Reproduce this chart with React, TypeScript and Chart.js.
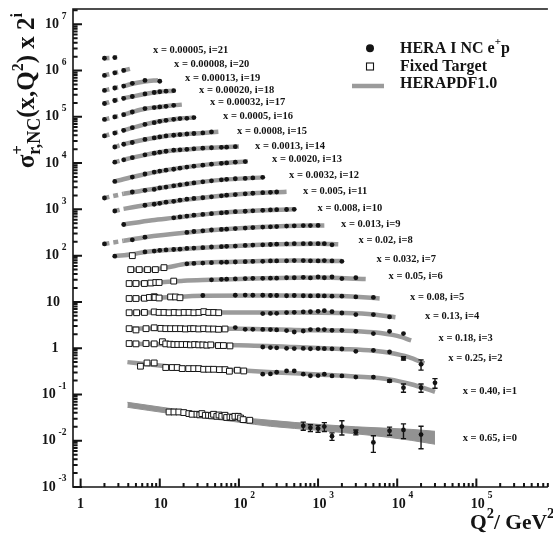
import React, { useEffect, useRef } from "react";
import { Chart, registerables } from "chart.js";

Chart.register(...registerables);

const SERIF = '"Liberation Serif", "Times New Roman", Times, serif';
const INK = "#141414";
const PDF_GREY = "#9b9b9b";
const BAND_GREY = "#929292";

// ---------------- data ----------------
// bin index i = 0..21 ; plotted value = sigma_r * 2^i
const BIN_X = ["0.65", "0.40", "0.25", "0.18", "0.13", "0.08", "0.05", "0.032", "0.02", "0.013", "0.008", "0.005", "0.0032", "0.0020", "0.0013", "0.0008", "0.0005", "0.00032", "0.00020", "0.00013", "0.00008", "0.00005"];

const X_MIN = 0.8011;
const X_MAX = 8.014e5;
const Y_MIN = 1e-3;
const Y_MAX = 2.14e7;
const X_TICK_EXP = [0, 1, 2, 3, 4, 5];
const Y_TICK_EXP = [-3, -2, -1, 0, 1, 2, 3, 4, 5, 6, 7];

// HERA I NC e+p  (Q2 in GeV^2)
const HERA_Q2: number[][] = [
  [650, 800, 1000, 1200, 1500, 2000, 3000, 5000, 8000, 12000, 20000],
  [200, 250, 300, 400, 500, 650, 800, 1000, 1200, 1500, 2000, 3000, 5000, 8000, 12000, 20000, 30000],
  [200, 250, 300, 400, 500, 650, 800, 1000, 1200, 1500, 2000, 3000, 5000, 8000, 12000, 20000],
  [90, 120, 150, 200, 250, 300, 400, 500, 650, 800, 1000, 1200, 1500, 2000, 3000, 5000, 8000, 12000],
  [200, 250, 300, 400, 500, 650, 800, 1000, 1200, 1500, 2000, 3000, 5000, 8000],
  [35, 90, 120, 150, 200, 250, 300, 400, 500, 650, 800, 1000, 1200, 1500, 2000, 3000, 5000],
  [45, 60, 70, 90, 120, 150, 200, 250, 300, 400, 500, 650, 800, 1000, 1200, 1500, 2000, 3000],
  [22, 27, 35, 45, 60, 70, 90, 120, 150, 200, 250, 300, 400, 500, 650, 800, 1000, 1200, 1500, 2000],
  [2.7, 6.5, 8.5, 10, 12, 15, 18, 22, 27, 35, 45, 60, 70, 90, 120, 150, 200, 250, 300, 400, 500, 650, 800, 1000, 1200, 1500],
  [2, 4.5, 6.5, 22, 27, 35, 45, 60, 70, 90, 120, 150, 200, 250, 300, 400, 500, 650, 800, 1000],
  [3.5, 15, 18, 22, 27, 35, 45, 60, 70, 90, 120, 150, 200, 250, 300, 400, 500],
  [2.7, 6.5, 8.5, 10, 12, 15, 18, 22, 27, 35, 45, 60, 70, 90, 120, 150, 200, 250, 300],
  [2, 4.5, 6.5, 8.5, 10, 12, 15, 18, 22, 27, 35, 45, 60, 70, 90, 120, 150, 200],
  [2.7, 4.5, 6.5, 8.5, 10, 12, 15, 18, 22, 27, 35, 45, 60, 70, 90, 120],
  [2.7, 3.5, 4.5, 6.5, 8.5, 10, 12, 15, 18, 22, 27, 35, 45, 60, 70, 90],
  [2.7, 3.5, 4.5, 6.5, 8.5, 10, 12, 15, 18, 22, 27, 35, 45],
  [2, 2.7, 3.5, 4.5, 6.5, 8.5, 10, 12, 15, 18, 22, 27],
  [2, 2.7, 3.5, 4.5, 6.5, 8.5, 10, 12, 15],
  [2, 2.7, 3.5, 4.5, 6.5, 8.5, 10, 12, 15],
  [2, 2.7, 3.5, 4.5, 6.5, 10],
  [2, 2.7, 3.5],
  [2, 2.7],
];
const HERA_SIGMA: number[][] = [
  [0.021, 0.019, 0.0184, 0.0202, 0.0125, 0.0202, 0.0152, 0.0092, 0.0164, 0.0171, 0.0136],
  [0.137, 0.139, 0.151, 0.161, 0.161, 0.137, 0.127, 0.128, 0.137, 0.126, 0.126, 0.119, 0.119, 0.098, 0.07, 0.07, 0.089],
  [0.265, 0.258, 0.255, 0.248, 0.245, 0.247, 0.243, 0.246, 0.244, 0.242, 0.24, 0.214, 0.225, 0.207, 0.151, 0.112],
  [0.348, 0.32, 0.32, 0.318, 0.315, 0.31, 0.3, 0.28, 0.294, 0.315, 0.315, 0.315, 0.304, 0.304, 0.29, 0.259, 0.29, 0.259],
  [0.35, 0.352, 0.355, 0.368, 0.373, 0.379, 0.383, 0.392, 0.405, 0.385, 0.36, 0.333, 0.333, 0.296],
  [0.43, 0.435, 0.44, 0.435, 0.435, 0.43, 0.43, 0.425, 0.43, 0.425, 0.42, 0.425, 0.42, 0.415, 0.415, 0.4, 0.39],
  [0.47, 0.48, 0.485, 0.49, 0.5, 0.505, 0.505, 0.51, 0.51, 0.52, 0.52, 0.53, 0.515, 0.54, 0.52, 0.54, 0.5, 0.52],
  [0.52, 0.53, 0.54, 0.55, 0.56, 0.565, 0.57, 0.58, 0.585, 0.59, 0.6, 0.6, 0.605, 0.61, 0.61, 0.605, 0.6, 0.61, 0.6, 0.59],
  [0.38, 0.47, 0.49, 0.51, 0.52, 0.53, 0.54, 0.56, 0.57, 0.58, 0.6, 0.61, 0.62, 0.63, 0.65, 0.66, 0.67, 0.68, 0.69, 0.7, 0.71, 0.71, 0.71, 0.71, 0.71, 0.67],
  [0.35, 0.43, 0.49, 0.62, 0.65, 0.67, 0.7, 0.72, 0.73, 0.75, 0.77, 0.79, 0.81, 0.82, 0.83, 0.85, 0.86, 0.87, 0.87, 0.88],
  [0.46, 0.64, 0.67, 0.7, 0.73, 0.76, 0.79, 0.82, 0.84, 0.87, 0.89, 0.91, 0.93, 0.95, 0.96, 0.97, 0.98],
  [0.45, 0.6, 0.63, 0.66, 0.7, 0.73, 0.77, 0.81, 0.84, 0.87, 0.91, 0.96, 0.99, 1.02, 1.06, 1.09, 1.12, 1.14, 1.16],
  [0.43, 0.58, 0.63, 0.66, 0.71, 0.74, 0.79, 0.83, 0.87, 0.91, 0.96, 1.01, 1.06, 1.09, 1.12, 1.14, 1.17, 1.2],
  [0.49, 0.61, 0.71, 0.78, 0.82, 0.86, 0.9, 0.95, 1.0, 1.05, 1.1, 1.16, 1.21, 1.23, 1.28, 1.32],
  [0.64, 0.72, 0.8, 0.92, 1.0, 1.05, 1.1, 1.16, 1.18, 1.21, 1.24, 1.28, 1.31, 1.34, 1.35, 1.38],
  [0.68, 0.78, 0.85, 0.99, 1.07, 1.12, 1.18, 1.22, 1.26, 1.3, 1.33, 1.37, 1.44],
  [0.59, 0.68, 0.78, 0.89, 1.05, 1.14, 1.22, 1.28, 1.35, 1.4, 1.42, 1.47],
  [0.67, 0.76, 0.85, 0.97, 1.15, 1.21, 1.25, 1.29, 1.35],
  [0.74, 0.86, 0.96, 1.05, 1.19, 1.28, 1.33, 1.37, 1.4],
  [0.71, 0.8, 0.88, 1.01, 1.17, 1.12],
  [0.75, 0.85, 0.96],
  [0.88, 0.91],
];
// absolute errors on sigma_r (0 = bar hidden by the marker)
const HERA_ERR: number[][] = [
  [0.0042, 0.0032, 0.0031, 0.0044, 0.0023, 0.0069, 0.0018, 0.0036, 0.0033, 0.006, 0.0069],
  [0, 0, 0, 0, 0, 0, 0, 0, 0, 0, 0, 0, 0, 0.005, 0.014, 0.014, 0.021],
  [0, 0, 0, 0, 0, 0, 0, 0, 0, 0, 0, 0, 0, 0, 0.012, 0.028],
];

// Fixed target
const FT_Q2: number[][] = [
  [13.1, 15.1, 17.4, 20.1, 23.3, 25.6, 29.5, 32, 34.1, 37.6, 41.3, 45, 47.8, 52.6, 56, 60.7, 66.7, 70, 77.1, 83, 89, 98, 105, 113, 137],
  [5.7, 6.9, 8.5, 11.9, 14.4, 16.6, 19.2, 23.2, 26.9, 31, 35.8, 41.4, 47.8, 56.8, 66.7, 75.8, 95.5, 115],
  [4.1, 5, 6.7, 8.5, 10.8, 11.9, 13.5, 15.1, 16.9, 19.1, 21.7, 24.4, 27.6, 31, 35, 39.3, 44.1, 55.1, 63.7, 77],
  [4.1, 5, 6.7, 8.5, 10.3, 11.9, 13.7, 15.8, 18.3, 21.1, 24.4, 26.8, 31, 35.8, 41.4, 47.8, 55.2, 66.7],
  [4.1, 5.1, 6.4, 8.5, 9.8, 11.3, 13.1, 15.2, 17.5, 20.3, 23.4, 27, 31.2, 36, 41.6, 48, 55.5],
  [4.1, 5, 6.4, 7.4, 8.5, 8.7, 9.8, 13.7, 15.8, 18],
  [4.1, 5, 6.4, 7.7, 8.9, 9.8, 15],
  [4.3, 5.5, 7, 8.8, 11.3],
  [4.5],
];
const FT_SIGMA: number[][] = [
  [0.0418, 0.0418, 0.0418, 0.0406, 0.0386, 0.0373, 0.0373, 0.0362, 0.0386, 0.0355, 0.0355, 0.0345, 0.0373, 0.0337, 0.036, 0.0337, 0.0355, 0.0318, 0.0326, 0.0318, 0.0337, 0.0337, 0.031, 0.0286, 0.0277],
  [0.204, 0.24, 0.24, 0.191, 0.191, 0.191, 0.181, 0.181, 0.181, 0.181, 0.175, 0.175, 0.175, 0.172, 0.172, 0.159, 0.167, 0.161],
  [0.315, 0.31, 0.315, 0.31, 0.345, 0.31, 0.305, 0.3, 0.3, 0.3, 0.3, 0.295, 0.3, 0.295, 0.295, 0.29, 0.295, 0.285, 0.285, 0.28],
  [0.33, 0.31, 0.33, 0.345, 0.335, 0.33, 0.33, 0.33, 0.33, 0.325, 0.33, 0.33, 0.325, 0.33, 0.325, 0.325, 0.32, 0.325],
  [0.365, 0.365, 0.37, 0.38, 0.37, 0.37, 0.365, 0.37, 0.365, 0.37, 0.37, 0.365, 0.37, 0.385, 0.37, 0.37, 0.365],
  [0.37, 0.37, 0.375, 0.39, 0.405, 0.39, 0.38, 0.4, 0.4, 0.385],
  [0.39, 0.39, 0.39, 0.4, 0.41, 0.41, 0.44],
  [0.39, 0.39, 0.39, 0.39, 0.43],
  [0.39],
];

// HERAPDF1.0 curves (bins 1..21); bin 0 is drawn as a band
const PDF_Q2: number[][] = [
  [],
  [3.9, 8, 20, 100, 300, 1000, 3000, 8000, 15000, 30000],
  [3.9, 20, 100, 500, 2000, 5000, 8000, 14000, 22000],
  [3.9, 20, 100, 500, 2000, 5000, 10000, 15000],
  [3.9, 20, 100, 500, 2000, 5000, 9500],
  [3.9, 10, 35, 300, 2000, 6000],
  [3.9, 10, 20, 45, 200, 1000, 4000],
  [3.9, 8, 12, 22, 90, 500, 2000],
  [2.7, 4.5, 6.5, 15, 60, 300, 1000, 1800],
  [2, 3.5, 6.5, 22, 90, 400, 1200],
  [3.5, 8, 15, 45, 150, 500],
  [2.7, 3.5, 6.5, 15, 45, 120, 400],
  [2, 3.5, 6.5, 12, 27, 60, 200],
  [2.7, 4.5, 6.5, 12, 27, 60, 130],
  [2.7, 3.5, 6.5, 12, 27, 60, 100],
  [2.7, 3.5, 6.5, 10, 18, 35, 55],
  [2, 3.5, 6.5, 10, 18, 27],
  [2, 2.7, 3.5, 4.5, 6.5, 10, 15, 19],
  [2, 2.7, 3.5, 4.5, 6.5, 10, 15],
  [2, 2.7, 3.5, 4.5, 6.5, 9.5],
  [2, 2.7, 3.5, 4.2],
  [2, 2.9],
];
const PDF_SIGMA: number[][] = [
  [],
  [0.25, 0.22, 0.19, 0.167, 0.15, 0.135, 0.122, 0.106, 0.083, 0.057],
  [0.31, 0.3, 0.29, 0.265, 0.24, 0.22, 0.2, 0.16, 0.117],
  [0.335, 0.33, 0.33, 0.31, 0.3, 0.275, 0.23, 0.185],
  [0.365, 0.37, 0.37, 0.37, 0.36, 0.335, 0.29],
  [0.37, 0.385, 0.425, 0.43, 0.42, 0.37],
  [0.39, 0.41, 0.45, 0.47, 0.505, 0.525, 0.49],
  [0.385, 0.39, 0.43, 0.52, 0.575, 0.61, 0.595],
  [0.38, 0.42, 0.47, 0.53, 0.61, 0.69, 0.71, 0.69],
  [0.35, 0.41, 0.49, 0.62, 0.75, 0.85, 0.88],
  [0.46, 0.57, 0.64, 0.79, 0.91, 0.98],
  [0.45, 0.5, 0.6, 0.73, 0.91, 1.06, 1.18],
  [0.43, 0.53, 0.63, 0.74, 0.91, 1.06, 1.2],
  [0.49, 0.61, 0.7, 0.86, 1.05, 1.21, 1.33],
  [0.64, 0.72, 0.92, 1.1, 1.24, 1.34, 1.39],
  [0.68, 0.78, 0.99, 1.12, 1.26, 1.37, 1.45],
  [0.59, 0.78, 1.05, 1.22, 1.4, 1.47],
  [0.67, 0.76, 0.85, 0.97, 1.14, 1.25, 1.35, 1.4],
  [0.74, 0.86, 0.96, 1.05, 1.19, 1.33, 1.4],
  [0.71, 0.8, 0.88, 0.99, 1.11, 1.18],
  [0.75, 0.85, 0.96, 1.04],
  [0.88, 0.92],
];
// bin 0 (x = 0.65) HERAPDF1.0 uncertainty band
const BAND_Q2 = [3.9, 13, 41, 100, 250, 1000, 3000, 8000, 15000, 30000];
const BAND_HI = [0.0677, 0.0503, 0.0392, 0.0322, 0.0276, 0.0226, 0.02, 0.0185, 0.0176, 0.016];
const BAND_LO = [0.0528, 0.0392, 0.0306, 0.0251, 0.0205, 0.0168, 0.0141, 0.0118, 0.0102, 0.0084];
const PDF_DASH_BELOW = 3.5;

// ---------------- layout (page pixels) ----------------
const LABEL_POS: number[][] = [
  [462.7, 438], [462.7, 391.3], [448.3, 358.5], [438.5, 338.3], [425, 316.5], [410, 297.5],
  [388.5, 276.5], [376.5, 259], [358.5, 240.5], [341, 224], [317.5, 208.5], [303, 191.5],
  [289, 175], [272, 159.5], [255, 146], [237, 131.5], [223, 116], [210, 102.5],
  [199, 90], [185, 78], [174, 64.5], [153, 50.5],
];

type Part = { t: string; px: number; dy?: number; hold?: boolean };

function richWidth(ctx: CanvasRenderingContext2D, parts: Part[]) {
  let w = 0;
  for (const p of parts) {
    ctx.font = `bold ${p.px}px ${SERIF}`;
    if (!p.hold) w += ctx.measureText(p.t).width;
  }
  return w;
}
function drawRich(ctx: CanvasRenderingContext2D, x: number, y: number, parts: Part[]) {
  let cx = x;
  for (const p of parts) {
    ctx.font = `bold ${p.px}px ${SERIF}`;
    ctx.fillText(p.t, cx, y + (p.dy || 0));
    if (!p.hold) cx += ctx.measureText(p.t).width;
  }
}

const errorBarPlugin = {
  id: "errorBars",
  afterDatasetsDraw(chart: any) {
    const { ctx } = chart;
    const ys = chart.scales.y;
    ctx.save();
    ctx.strokeStyle = INK;
    ctx.lineWidth = 1.4;
    chart.data.datasets.forEach((ds: any, di: number) => {
      if (!ds.errors) return;
      const meta = chart.getDatasetMeta(di);
      meta.data.forEach((pt: any, k: number) => {
        const e = ds.errors[k];
        if (!e) return;
        const v = ds.data[k].y;
        const top = ys.getPixelForValue(v + e);
        const bot = ys.getPixelForValue(Math.max(v - e, Y_MIN));
        ctx.beginPath();
        ctx.moveTo(pt.x, top);
        ctx.lineTo(pt.x, bot);
        ctx.moveTo(pt.x - 2.6, top);
        ctx.lineTo(pt.x + 2.6, top);
        ctx.moveTo(pt.x - 2.6, bot);
        ctx.lineTo(pt.x + 2.6, bot);
        ctx.stroke();
      });
    });
    ctx.restore();
  },
};

const decorPlugin = {
  id: "decor",
  afterDraw(chart: any) {
    const { ctx, chartArea: a } = chart;
    const xs = chart.scales.x;
    const ys = chart.scales.y;
    ctx.save();
    ctx.fillStyle = INK;
    ctx.strokeStyle = INK;

    // frame
    ctx.lineWidth = 1.6;
    ctx.beginPath();
    ctx.moveTo(a.right, a.top);
    ctx.lineTo(a.left, a.top);
    ctx.lineTo(a.left, a.bottom);
    ctx.lineTo(a.right, a.bottom);
    ctx.stroke();

    // y ticks (inward)
    ctx.lineWidth = 2;
    ctx.beginPath();
    for (const e of Y_TICK_EXP) {
      for (let m = 1; m <= 9; m++) {
        const v = m * Math.pow(10, e);
        if (v > ys.max) break;
        const py = ys.getPixelForValue(v);
        const len = m === 1 ? 9 : 4.6;
        ctx.moveTo(a.left, py);
        ctx.lineTo(a.left + len, py);
      }
    }
    // x ticks (inward)
    for (const e of X_TICK_EXP.concat([6])) {
      for (let m = 1; m <= 9; m++) {
        const v = m * Math.pow(10, e);
        if (v > xs.max) break;
        const px = xs.getPixelForValue(v);
        const len = m === 1 ? 8.5 : 4;
        ctx.moveTo(px, a.bottom);
        ctx.lineTo(px, a.bottom - len);
      }
    }
    ctx.stroke();

    // y tick labels
    ctx.textBaseline = "middle";
    ctx.textAlign = "left";
    for (const e of Y_TICK_EXP) {
      const py = ys.getPixelForValue(Math.pow(10, e));
      let parts: Part[];
      let right: number;
      if (e === 0) { parts = [{ t: "1", px: 14 }]; right = 58.5; }
      else if (e === 1) { parts = [{ t: "10", px: 14 }]; right = 60; }
      else { parts = [{ t: "10", px: 14 }, { t: "\u2009", px: 14 }, { t: String(e), px: 9.5, dy: -8 }]; right = 66.5; }
      const w = richWidth(ctx, parts);
      ctx.fillStyle = INK;
      drawRich(ctx, right - w, py, parts);
    }
    // x tick labels
    for (const e of X_TICK_EXP) {
      const px = xs.getPixelForValue(Math.pow(10, e));
      const y0 = 504;
      if (e === 0) {
        ctx.font = `bold 14px ${SERIF}`;
        ctx.textAlign = "center";
        ctx.fillText("1", px, y0);
        ctx.textAlign = "left";
      } else if (e === 1) {
        ctx.font = `bold 14px ${SERIF}`;
        ctx.textAlign = "center";
        ctx.fillText("10", px + 1, y0);
        ctx.textAlign = "left";
      } else {
        ctx.font = `bold 14px ${SERIF}`;
        const w10 = ctx.measureText("10").width;
        const x0 = px + 1.5 - w10 / 2;
        drawRich(ctx, x0, y0, [{ t: "10", px: 14 }, { t: "\u2009", px: 14 }, { t: String(e), px: 9.5, dy: -8 }]);
      }
    }

    // x title
    drawRich(ctx, 470, 523, [
      { t: "Q", px: 21.5 },
      { t: "2", px: 14.5, dy: -9 },
      { t: "/ GeV", px: 21.5 },
      { t: "2", px: 14.5, dy: -9 },
    ]);

    // y title (rotated)
    const yParts: Part[] = [
      { t: "\u03c3", px: 25 },
      { t: "+", px: 17, dy: -9, hold: true },
      { t: "r,NC", px: 18, dy: 7 },
      { t: "(x,Q", px: 25 },
      { t: "2", px: 16, dy: -9 },
      { t: ") x 2", px: 25 },
      { t: "i", px: 16, dy: -10 },
    ];
    const yw = richWidth(ctx, yParts);
    ctx.save();
    ctx.translate(28, 13 + yw);
    ctx.rotate(-Math.PI / 2);
    drawRich(ctx, 0, 0, yParts);
    ctx.restore();

    // bin labels
    for (let i = 0; i < BIN_X.length; i++) {
      const [lx, ly] = LABEL_POS[i];
      ctx.font = `bold 10.5px ${SERIF}`;
      ctx.fillText(`x = ${BIN_X[i]}, i=${i}`, lx, ly);
    }

    // legend
    ctx.beginPath();
    ctx.arc(370, 48.3, 4, 0, Math.PI * 2);
    ctx.fill();
    drawRich(ctx, 400, 48.5, [
      { t: "HERA I NC e", px: 16 },
      { t: "+", px: 11, dy: -6 },
      { t: "p", px: 16 },
    ]);
    ctx.lineWidth = 1.1;
    ctx.strokeRect(366.5, 63, 7, 7);
    ctx.font = `bold 16px ${SERIF}`;
    ctx.fillText("Fixed Target", 400, 66.5);
    ctx.strokeStyle = PDF_GREY;
    ctx.lineWidth = 4.5;
    ctx.beginPath();
    ctx.moveTo(352, 86);
    ctx.lineTo(384, 86);
    ctx.stroke();
    ctx.fillText("HERAPDF1.0", 400, 84);

    ctx.restore();
  },
};

function buildDatasets() {
  const ds: any[] = [];
  // bin 0 band
  ds.push({
    type: "line",
    data: BAND_Q2.map((q, k) => ({ x: q, y: BAND_HI[k] })),
    borderColor: BAND_GREY,
    backgroundColor: BAND_GREY,
    borderWidth: 1,
    pointRadius: 0,
    fill: false,
    cubicInterpolationMode: "monotone",
    order: 5,
  });
  ds.push({
    type: "line",
    data: BAND_Q2.map((q, k) => ({ x: q, y: BAND_LO[k] })),
    borderColor: BAND_GREY,
    backgroundColor: BAND_GREY,
    borderWidth: 1,
    pointRadius: 0,
    fill: "-1",
    cubicInterpolationMode: "monotone",
    order: 5,
  });
  for (let i = 1; i < BIN_X.length; i++) {
    const f = Math.pow(2, i);
    const pts = PDF_Q2[i].map((q, k) => ({ x: q, y: PDF_SIGMA[i][k] * f }));
    ds.push({
      type: "line",
      data: pts,
      borderColor: PDF_GREY,
      borderWidth: 4.5,
      borderCapStyle: "butt",
      pointRadius: 0,
      fill: false,
      cubicInterpolationMode: "monotone",
      segment: {
        borderDash: (c: any) => (pts[c.p1DataIndex].x <= PDF_DASH_BELOW ? [5, 4] : undefined),
      },
      order: 4,
    });
  }
  for (let i = 0; i < BIN_X.length; i++) {
    const f = Math.pow(2, i);
    if (FT_Q2[i] && FT_Q2[i].length) {
      ds.push({
        type: "scatter",
        data: FT_Q2[i].map((q, k) => ({ x: q, y: FT_SIGMA[i][k] * f })),
        pointStyle: "rect",
        pointRadius: 4.1,
        backgroundColor: "#ffffff",
        borderColor: INK,
        pointBackgroundColor: "#ffffff",
        pointBorderColor: INK,
        pointBorderWidth: 1,
        borderWidth: 1,
        showLine: false,
        order: 2,
      });
    }
    const errs = HERA_ERR[i] ? HERA_ERR[i].map((e) => e * f) : null;
    ds.push({
      type: "scatter",
      data: HERA_Q2[i].map((q, k) => ({ x: q, y: HERA_SIGMA[i][k] * f })),
      pointStyle: "circle",
      pointRadius: 2.4,
      backgroundColor: INK,
      borderColor: INK,
      pointBackgroundColor: INK,
      pointBorderWidth: 0,
      borderWidth: 0,
      showLine: false,
      order: 1,
      errors: errs,
    });
  }
  return ds;
}

export default function App() {
  const ref = useRef<HTMLCanvasElement>(null);
  useEffect(() => {
    if (!ref.current) return;
    const chart = new Chart(ref.current, {
      type: "scatter",
      data: { datasets: buildDatasets() },
      options: {
        responsive: false,
        animation: false,
        devicePixelRatio: 1,
        events: [],
        layout: { padding: { left: 73, right: 0, top: 9, bottom: 47 } },
        plugins: { legend: { display: false }, tooltip: { enabled: false } },
        scales: {
          x: { type: "logarithmic", min: X_MIN, max: X_MAX, display: false },
          y: { type: "logarithmic", min: Y_MIN, max: Y_MAX, display: false },
        },
      } as any,
      plugins: [errorBarPlugin, decorPlugin],
    } as any);
    return () => chart.destroy();
  }, []);
  return (
    <div style={{ position: "fixed", left: 0, top: 0, width: 553, height: 534, background: "#fff", overflow: "hidden" }}>
      <canvas ref={ref} width={553} height={534} style={{ display: "block", width: 553, height: 534 }} />
    </div>
  );
}
